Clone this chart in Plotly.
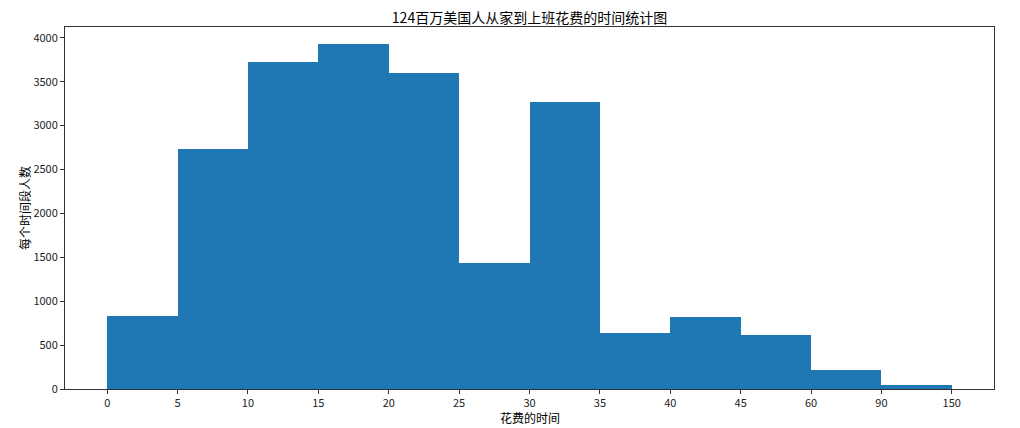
import plotly.graph_objects as go

# commute time bins (minutes) and counts in thousands
interval = [0, 5, 10, 15, 20, 25, 30, 35, 40, 45, 60, 90]
width = [5, 5, 5, 5, 5, 5, 5, 5, 5, 15, 30, 60]
quantity = [836, 2737, 3723, 3926, 3596, 1438, 3273, 642, 824, 613, 215, 47]

edges = interval + [interval[-1] + width[-1]]
positions = [i + 0.5 for i in range(len(quantity))]

FONT = "Noto Sans CJK SC, Liberation Sans, sans-serif"

fig = go.Figure()
fig.add_trace(go.Bar(
    x=positions,
    y=quantity,
    width=1,
    marker=dict(color="#1f77b4", line=dict(width=0)),
))

n = len(quantity)
fig.update_xaxes(
    range=[-0.05 * n, n + 0.05 * n],
    tickvals=list(range(len(edges))),
    ticktext=[str(e) for e in edges],
    ticks="outside", ticklen=4, tickcolor="#333",
    showline=True, mirror=True, linecolor="#333", linewidth=1,
    showgrid=False, zeroline=False,
    tickfont=dict(size=11, color="#222"),
)
fig.update_yaxes(
    range=[0, max(quantity) * 1.05],
    dtick=500,
    ticks="outside", ticklen=4, tickcolor="#333",
    showline=True, mirror=True, linecolor="#333", linewidth=1,
    showgrid=False, zeroline=False,
    title=dict(text="每个时间段人数", font=dict(size=12, color="#000"), standoff=0),
    tickfont=dict(size=11, color="#222"),
)

# x label as annotation so it can sit a bit closer to the tick labels
fig.add_annotation(text="花费的时间", xref="paper", yref="paper", x=0.5, y=-0.079,
                   yanchor="middle", showarrow=False, font=dict(size=12, color="#000"))

# page body has an 8px margin, so shift margins to land the axes where the reference has them
fig.update_layout(
    width=1020, height=428,
    margin=dict(l=57, r=34, t=19, b=47),
    title=dict(text="124百万美国人从家到上班花费的时间统计图", x=0.5, xref="paper",
               y=1 - 10 / 428, yanchor="middle", font=dict(size=14, color="#000")),
    font=dict(family=FONT),
    plot_bgcolor="white",
    paper_bgcolor="white",
    showlegend=False,
    bargap=0,
)

fig.write_html("out.html")
